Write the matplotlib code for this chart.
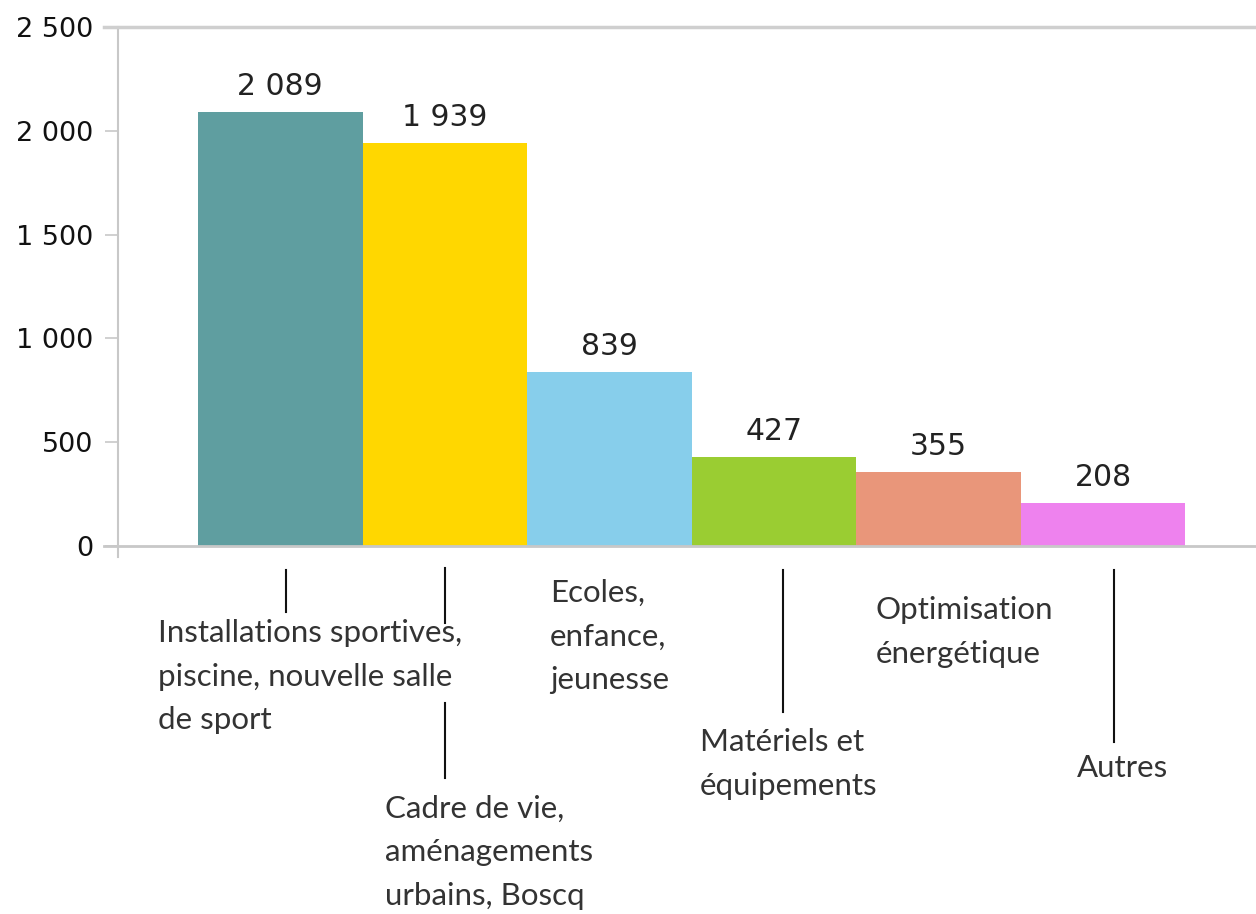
import matplotlib.pyplot as plt
import numpy as np

categories = ['Installations sportives,\npiscine, nouvelle salle\nde sport',
              'Cadre de vie,\naménagements\nurbains, Boscq',
              'Ecoles,\nenfance,\njeunesse',
              'Matériels et\néquipements',
              'Optimisation\nénergétique',
              'Autres']
values = [2089, 1939, 839, 427, 355, 208]
value_labels = ['2 089', '1 939', '839', '427', '355', '208']
colors = ['#5F9EA0', '#FFD700', '#87CEEB', '#9ACD32', '#E9967A', '#EE82EE']
yticks = [0, 500, 1000, 1500, 2000, 2500]
ytick_labels = ['0', '500', '1 000', '1 500', '2 000', '2 500']

# label placement (data x of text left edge, y in axes fraction) and leader lines
lab_x = [-0.743, 0.637, 1.64, 2.55, 3.62, 4.84]
lab_y = [-0.252, -0.590, -0.175, -0.420, -0.166, -0.428]
leaders = [[(-0.046, -0.127)], [(-0.042, -0.148), (-0.302, -0.447)],
           [], [(-0.046, -0.320)], [], [(-0.046, -0.378)]]
lead_dx = [0.033, 0.0, 0.0, 0.058, 0.0, 0.064]

fig = plt.figure(figsize=(12.56, 9.14), dpi=100)
ax = fig.add_axes([118/1256, (914-546)/914, 1-118/1256, (546-27)/914])

x = np.arange(len(values))
ax.bar(x, values, width=1.0, color=colors, zorder=2)
ax.set_xlim(-0.986, 5.93)
ax.set_ylim(0, 2500)

for xi, v, t in zip(x, values, value_labels):
    ax.annotate(t, (xi, v), xytext=(0, 8), textcoords='offset points',
                ha='center', va='bottom', fontsize=21.5, color='#222222',
                family='DejaVu Sans')

for s in ['top', 'right', 'bottom']:
    ax.spines[s].set_visible(False)
ax.spines['left'].set_color('#c8c8c8')
ax.spines['left'].set_linewidth(1.5)
ax.spines['left'].set_bounds(-55, 2500)

ax.axhline(0, xmin=-0.012, xmax=1, color='#c8c8c8', lw=2, clip_on=False, zorder=3)
ax.axhline(2500, xmin=-0.012, xmax=1, color='#cfcfcf', lw=2.5, clip_on=False, zorder=3)

ax.set_yticks(yticks)
ax.set_yticklabels(ytick_labels)
ax.tick_params(axis='y', length=9.5, width=1.2, color='#c8c8c8', pad=8,
               labelsize=19.5, labelcolor='#111111')
ax.set_xticks([])

tf = ax.get_xaxis_transform()
for i, cat in enumerate(categories):
    ax.text(lab_x[i], lab_y[i], cat, transform=tf, ha='left', va='center',
            fontsize=22.5, family='Lato', color='#333333', linespacing=1.68)
    for (y0, y1) in leaders[i]:
        ax.plot([x[i] + lead_dx[i]] * 2, [y0, y1], transform=tf, color='#111111',
                lw=1.5, clip_on=False)

fig.savefig('out.png', dpi=100, facecolor='white')
